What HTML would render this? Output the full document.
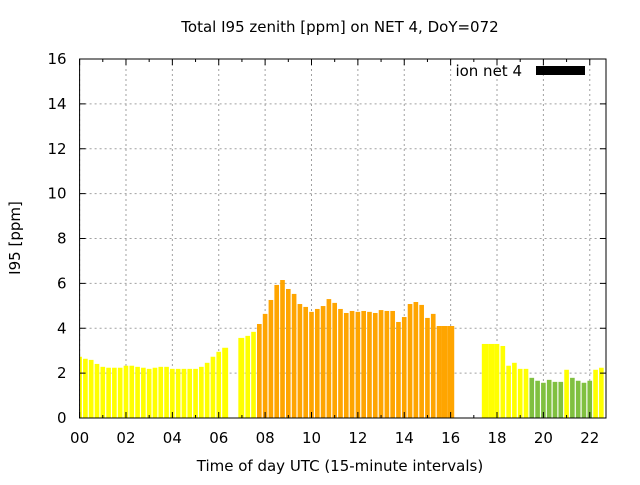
<!DOCTYPE html>
<html><head><meta charset="utf-8"><style>
body{margin:0;background:#fff}
svg text{font-family:"DejaVu Sans","Liberation Sans",sans-serif;fill:#000}
</style></head><body>
<svg id="chart" width="640" height="480" viewBox="0 0 640 480">
<rect width="640" height="480" fill="#fff"/>
<text x="340" y="32" font-size="15" text-anchor="middle">Total I95 zenith [ppm] on NET 4, DoY=072</text>
<text x="340" y="471" font-size="15" text-anchor="middle">Time of day UTC (15-minute intervals)</text>
<text transform="translate(20,238) rotate(-90)" font-size="15" text-anchor="middle">I95 [ppm]</text>
<g id="grid"></g><g id="bars"></g><g id="axes"></g>
<text x="522" y="76" font-size="15" text-anchor="end">ion net 4</text>
<rect x="536" y="66" width="49" height="9" fill="#000"/>
</svg>
<script>
const yTicks=[0,2,4,6,8,10,12,14,16];
const xTickLabels=["00","02","04","06","08","10","12","14","16","18","20","22"];
const values=[2.73,2.64,2.59,2.41,2.28,2.24,2.24,2.24,2.33,2.33,2.28,2.24,2.19,2.24,2.28,2.28,2.19,2.19,2.19,2.19,2.19,2.28,2.46,2.73,2.95,3.13,
null,null,3.57,3.66,3.84,4.19,4.64,5.26,5.93,6.15,5.75,5.53,5.08,4.95,4.73,4.86,4.99,5.30,5.13,4.86,4.68,
4.77,4.73,4.77,4.73,4.68,4.81,4.77,4.77,4.28,4.50,5.08,5.17,5.04,4.46,4.64,4.10,4.10,4.10,
null,null,null,null,null,3.30,3.30,3.30,3.21,2.33,2.46,2.19,2.19,1.79,1.66,1.57,1.70,1.61,1.61,2.15,1.79,1.66,1.57,1.66,2.15,2.24];
const L=79.6,R=606,T=59,B=418,XMAX=22.7,YMAX=16;
const xs=h=>L+h/XMAX*(R-L), ys=v=>B-v/YMAX*(B-T);
const NS="http://www.w3.org/2000/svg";
function mk(tag,attrs,parent){const e=document.createElementNS(NS,tag);for(const k in attrs)e.setAttribute(k,attrs[k]);parent.appendChild(e);return e;}
const grid=document.getElementById('grid'),bars=document.getElementById('bars'),axes=document.getElementById('axes');
yTicks.forEach(v=>{
 const l=mk('line',{x1:L,x2:R,y1:ys(v),y2:ys(v),stroke:'#a0a0a0','stroke-dasharray':'2,3'},grid);
 
 
 mk('line',{x1:L,x2:L+6,y1:ys(v),y2:ys(v),stroke:'#000'},axes);
 mk('line',{x1:R,x2:R-6,y1:ys(v),y2:ys(v),stroke:'#000'},axes);
 const t=mk('text',{x:L-13,y:ys(v)+5,'font-size':15,'text-anchor':'end'},axes);t.textContent=v;
 
 
});
xTickLabels.forEach((s,i)=>{
 const h=i*2,x=xs(h);
 const l=mk('line',{x1:x,x2:x,y1:T,y2:B,stroke:'#a0a0a0','stroke-dasharray':'2,3'},grid);
 
 
 const t=mk('text',{x:x,y:443,'font-size':15,'text-anchor':'middle'},axes);t.textContent=s;
 
 
});
for(let h=0;h<=22;h++){const x=xs(h);mk('line',{x1:x,x2:x,y1:B,y2:B-(h%2?3:6),stroke:'#000'},axes);mk('line',{x1:x,x2:x,y1:T,y2:T+(h%2?3:6),stroke:'#000'},axes);}
const slot=xs(0.25)-xs(0),hw=slot*0.4;
// runs of equal values touching a gap are drawn merged
const merged=values.map(()=>false);
for(let k=0;k<values.length;){
 if(values[k]==null){k++;continue;}
 let e=k;while(e+1<values.length&&values[e+1]===values[k])e++;
 if(e>k&&(values[k-1]===null||values[e+1]===null)){for(let j=k;j<=e;j++)merged[j]=true;}
 k=e+1;
}
values.forEach((v,k)=>{
 if(v==null)return;
 const c=xs(k*0.25);
 const p=values[k-1],n=values[k+1];
 let x0=c-hw,x1=c+hw;
 if(p===null)x0=c-slot*0.5-hw*0.3; else if(merged[k]&&p===v)x0=c-slot/2;
 if(n===null)x1=c+slot*0.5+hw*0.3; else if(merged[k]&&n===v)x1=c+slot/2;
 x0=Math.max(x0,L);x1=Math.min(x1,R);
 const col=v<2?'#80c040':(v<4?'#ffff00':'#ffa500');
 const r=mk('rect',{x:x0,y:ys(v),width:Math.max(0,x1-x0),height:B-ys(v),fill:col},bars);
 
 
});
mk('rect',{x:L,y:T,width:R-L,height:B-T,fill:'none',stroke:'#000'},axes);
</script>
</body></html>
